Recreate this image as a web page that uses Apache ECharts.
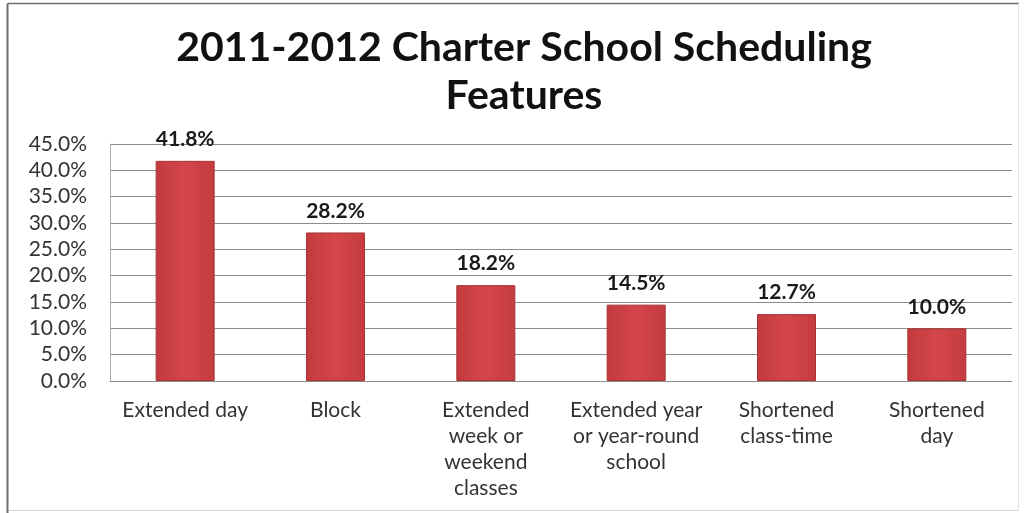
<!DOCTYPE html>
<html>
<head>
<meta charset="utf-8">
<script src="https://cdn.jsdelivr.net/npm/echarts@6/dist/echarts.min.js"></script>
<style>
  html, body { margin: 0; padding: 0; background: #fff; }
  #chart { width: 1029px; height: 513px; }
</style>
</head>
<body>
<div id="chart"></div>
<script>
// Share of charter schools using each scheduling feature, 2011-2012
const categories = [
  'Extended day',
  'Block',
  'Extended\nweek or\nweekend\nclasses',
  'Extended year\nor year-round\nschool',
  'Shortened\nclass-time',
  'Shortened\nday'
];
const shares = [41.8, 28.2, 18.2, 14.5, 12.7, 10.0];
const yTicks = { min: 0, max: 45, step: 5 };

const FONT = 'Lato, "Open Sans", sans-serif';
const chart = echarts.init(document.getElementById('chart'), null, { renderer: 'canvas' });

chart.setOption({
  backgroundColor: '#ffffff',
  animation: false,
  title: {
    text: '2011-2012 Charter School Scheduling\nFeatures',
    left: 519,
    top: 19,
    textAlign: 'center',
    textStyle: {
      fontFamily: FONT,
      fontSize: 41,
      fontWeight: 'bold',
      color: '#111',
      lineHeight: 48
    }
  },
  graphic: [
    // outer frame: darker top and left edges, faint right and bottom edges
    { type: 'line', shape: { x1: 7.5, y1: 3.5, x2: 1019, y2: 3.5 }, style: { stroke: '#6e6e6e', lineWidth: 1.5 }, silent: true },
    { type: 'line', shape: { x1: 7.5, y1: 3.5, x2: 7.5, y2: 513 }, style: { stroke: '#6e6e6e', lineWidth: 2 }, silent: true },
    { type: 'line', shape: { x1: 1018.5, y1: 3.5, x2: 1018.5, y2: 510 }, style: { stroke: '#e2e2e2', lineWidth: 1 }, silent: true },
    { type: 'line', shape: { x1: 9, y1: 510.5, x2: 1018.5, y2: 510.5 }, style: { stroke: '#d4d4d4', lineWidth: 1 }, silent: true }
  ],
  grid: { left: 110, right: 17, top: 144, bottom: 132 },
  xAxis: {
    type: 'category',
    data: categories,
    axisLine: { lineStyle: { color: '#8c8c8c' } },
    axisTick: { length: 5, lineStyle: { color: '#8c8c8c' } },
    axisLabel: {
      interval: 0,
      margin: 16,
      fontFamily: FONT,
      fontSize: 21,
      color: '#333',
      lineHeight: 26
    }
  },
  yAxis: {
    type: 'value',
    min: yTicks.min,
    max: yTicks.max,
    interval: yTicks.step,
    axisLine: { show: true, lineStyle: { color: '#b0b0b0' } },
    axisTick: { show: false },
    splitLine: { lineStyle: { color: '#8c8c8c' } },
    axisLabel: {
      margin: 23,
      fontFamily: FONT,
      fontSize: 21,
      color: '#333',
      formatter: v => v.toFixed(1) + '%'
    }
  },
  series: [{
    type: 'bar',
    data: shares,
    barWidth: 59,
    itemStyle: {
      color: new echarts.graphic.LinearGradient(0, 0, 1, 0, [
        { offset: 0, color: '#c23a3d' },
        { offset: 0.5, color: '#d4464a' },
        { offset: 1, color: '#c43b3e' }
      ]),
      borderColor: '#a83234',
      borderWidth: 1
    },
    label: {
      show: true,
      position: 'top',
      distance: 11,
      fontFamily: FONT,
      fontSize: 21,
      fontWeight: 'bold',
      color: '#1a1a1a',
      formatter: p => p.value.toFixed(1) + '%'
    }
  }]
});
</script>
</body>
</html>
